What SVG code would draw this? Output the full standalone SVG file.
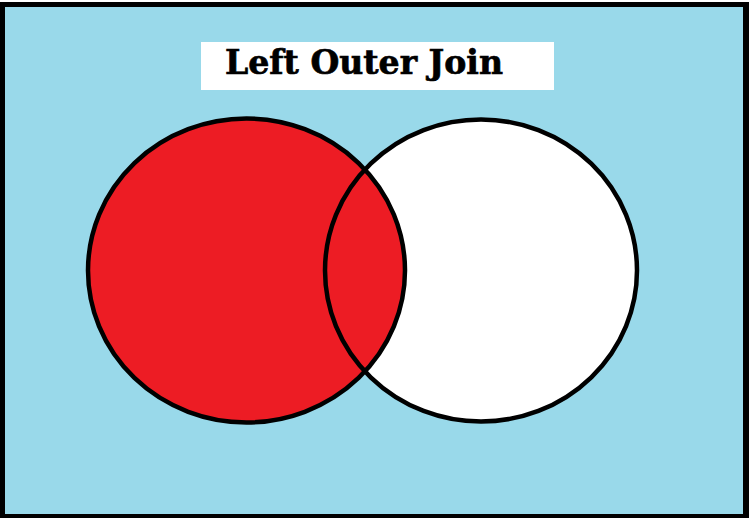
<svg xmlns="http://www.w3.org/2000/svg" width="749" height="518" viewBox="0 0 749 518">
  <style>
    .outline { fill: none; stroke: #000000; stroke-width: 4.5; }
    .title { font-family: "DejaVu Serif", "Liberation Serif", serif; font-weight: bold; font-size: 33px; fill: #000000; stroke: #000000; stroke-width: 0.7; }
  </style>
  <defs>
    <clipPath id="leftClip">
      <ellipse cx="246.5" cy="270.5" rx="158.5" ry="152"/>
    </clipPath>
  </defs>
  <rect x="0" y="0" width="749" height="518" fill="#ffffff"/>
  <rect x="0" y="2" width="749" height="516" fill="#000000"/>
  <rect x="5" y="7" width="738" height="507" fill="#99d9ea"/>
  <g id="title">
    <rect x="201" y="42" width="353" height="48" fill="#ffffff"/>
    <text class="title" x="225" y="74" textLength="278" lengthAdjust="spacingAndGlyphs">Left Outer Join</text>
  </g>
  <g id="left-table">
    <ellipse cx="246.5" cy="270.5" rx="158.5" ry="152" fill="#ed1c24"/>
  </g>
  <g id="right-table">
    <ellipse cx="481" cy="270.5" rx="156" ry="151" fill="#ffffff"/>
  </g>
  <g id="intersection">
    <ellipse cx="481" cy="270.5" rx="156" ry="151" fill="#ed1c24" clip-path="url(#leftClip)"/>
  </g>
  <g id="outlines">
    <ellipse class="outline" cx="246.5" cy="270.5" rx="158.5" ry="152"/>
    <ellipse class="outline" cx="481" cy="270.5" rx="156" ry="151"/>
  </g>
</svg>
